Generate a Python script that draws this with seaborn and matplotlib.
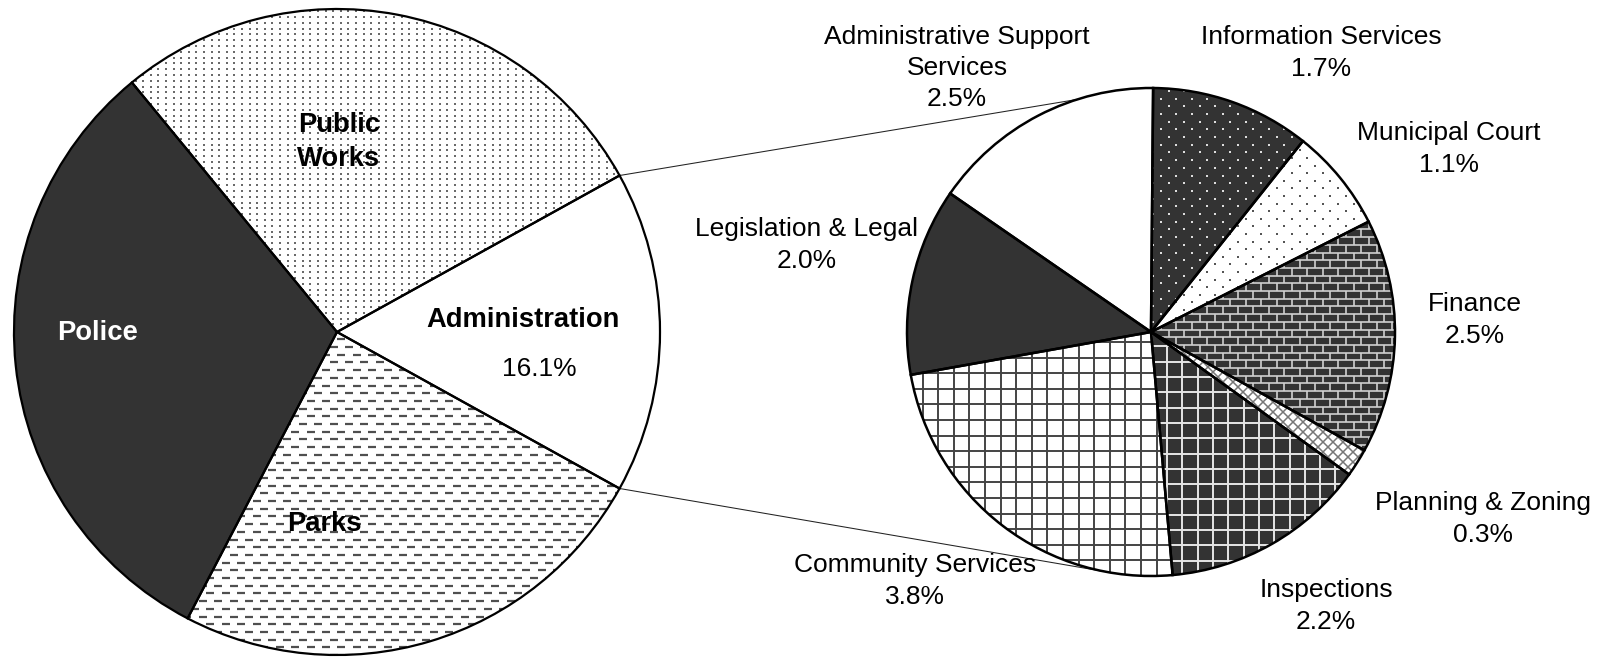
import textwrap

import numpy as np
import matplotlib
matplotlib.use("Agg")
import matplotlib.pyplot as plt
from matplotlib.collections import LineCollection
import seaborn as sns

# ---- data -------------------------------------------------------------
dept_names = ["Administration", "Public Works", "Police", "Parks"]
dept_share = [16.1, 27.9, 31.4, 24.6]

admin_names = [
    "Information Services",
    "Municipal Court",
    "Finance",
    "Planning & Zoning",
    "Inspections",
    "Community Services",
    "Legislation & Legal",
    "Administrative Support Services",
]
admin_share = [1.7, 1.1, 2.5, 0.3, 2.2, 3.8, 2.0, 2.5]

# ---- canvas (axes units are pixels, y up) -----------------------------
W, H = 1606, 658
sns.set_theme(style="white")
plt.rcParams["font.family"] = ["Liberation Sans", "DejaVu Sans"]

fig = plt.figure(figsize=(W / 100, H / 100), dpi=100)
ax = fig.add_axes([0, 0, 1, 1])

DARK = "#333333"


def Y(y):
    return H - y


main_c, main_r = (337.0, Y(332)), 323.0
sub_c, sub_r = (1151.0, Y(332)), 244.0

main_start = -dept_share[0] / 100 * 360 / 2
sub_start = 89.5

main_faces = ["white", "white", DARK, "white"]
sub_faces = [DARK, "white", DARK, "white", DARK, "white", DARK, "white"]

# filled faces
wm, _ = ax.pie(dept_share, colors=main_faces, startangle=main_start,
               center=main_c, radius=main_r,
               wedgeprops=dict(linewidth=0, zorder=1))
ws, _ = ax.pie(admin_share, colors=sub_faces, startangle=sub_start,
               counterclock=False, center=sub_c, radius=sub_r,
               wedgeprops=dict(linewidth=0, zorder=1))


# ---- fill textures, clipped to their wedge ----------------------------
def lattice(c, r, dx, dy, stagger):
    rows = []
    for i, y in enumerate(np.arange(c[1] - r - dy, c[1] + r + dy, dy)):
        off = dx / 2 if (stagger and i % 2) else 0.0
        xs = np.arange(c[0] - r - dx + off, c[0] + r + dx, dx)
        rows.append(np.column_stack([xs, np.full_like(xs, y)]))
    return np.vstack(rows)


def dots(w, c, r, dx, dy, stagger, color, size):
    p = lattice(c, r, dx, dy, stagger)
    sc = ax.scatter(p[:, 0], p[:, 1], s=size, color=color, marker="s",
                    linewidths=0, zorder=2)
    sc.set_clip_path(w)


def lines(w, segs, color, lw):
    lc = LineCollection(segs, colors=color, linewidths=lw, zorder=2)
    ax.add_collection(lc)
    lc.set_clip_path(w)


def dashes(w, c, r, period, row, length, color, lw):
    p = lattice(c, r, period, row, True)
    segs = [[(x, y), (x + length, y)] for x, y in p]
    lines(w, segs, color, lw)


def grid(w, c, r, step, color, lw):
    segs = []
    for v in np.arange(-r - step, r + step, step):
        segs.append([(c[0] + v, c[1] - r), (c[0] + v, c[1] + r)])
        segs.append([(c[0] - r, c[1] + v), (c[0] + r, c[1] + v)])
    lines(w, segs, color, lw)


def bricks(w, c, r, length, row, color, lw):
    segs = []
    for i, y in enumerate(np.arange(c[1] - r - row, c[1] + r + row, row)):
        segs.append([(c[0] - r, y), (c[0] + r, y)])
        off = length / 2 if i % 2 else 0.0
        for x in np.arange(c[0] - r - length + off, c[0] + r + length, length):
            segs.append([(x, y), (x, y + row)])
    lines(w, segs, color, lw)


def diagonal(w, c, r, step, color, lw):
    segs = []
    for v in np.arange(-2 * r, 2 * r, step):
        segs.append([(c[0] + v - r, c[1] - r), (c[0] + v + r, c[1] + r)])
        segs.append([(c[0] + v - r, c[1] + r), (c[0] + v + r, c[1] - r)])
    lines(w, segs, color, lw)


# overall budget pie
dots(wm[1], main_c, main_r, 7.6, 5.8, False, "#6a6a6a", 2.2)
dashes(wm[3], main_c, main_r, 15.4, 7.7, 8.0, "#4f4f4f", 1.6)

# administration breakdown
dots(ws[0], sub_c, sub_r, 15.4, 7.7, True, "#dddddd", 2.6)
dots(ws[1], sub_c, sub_r, 15.4, 7.6, True, "#555555", 2.6)
bricks(ws[2], sub_c, sub_r, 15.4, 7.7, "#d0d0d0", 1.2)
diagonal(ws[3], sub_c, sub_r, 10.0, "#777777", 1.1)
grid(ws[4], sub_c, sub_r, 15.3, "#e6e6e6", 1.4)
grid(ws[5], sub_c, sub_r, 15.6, "#444444", 1.4)

# wedge outlines on top of the textures
ax.pie(dept_share, colors=["none"] * len(dept_share), startangle=main_start,
       center=main_c, radius=main_r,
       wedgeprops=dict(fill=False, edgecolor="black", linewidth=1.6, zorder=3))
ax.pie(admin_share, colors=["none"] * len(admin_share), startangle=sub_start,
       counterclock=False, center=sub_c, radius=sub_r,
       wedgeprops=dict(fill=False, edgecolor="black", linewidth=1.8, zorder=3))

# ---- connector lines from the Administration slice --------------------
a_top = np.deg2rad(main_start + dept_share[0] / 100 * 360)
a_bot = np.deg2rad(main_start)
b_top, b_bot = np.deg2rad(107.6), np.deg2rad(259.0)
for a, b in ((a_top, b_top), (a_bot, b_bot)):
    ax.plot([main_c[0] + main_r * np.cos(a), sub_c[0] + sub_r * np.cos(b)],
            [main_c[1] + main_r * np.sin(a), sub_c[1] + sub_r * np.sin(b)],
            color="#222222", linewidth=0.75, zorder=0.5)

# ---- labels ------------------------------------------------------------
FS, FSB = 19, 19.7

main_label_pos = {
    "Public Works": (339, 142),
    "Police": (98, 333),
    "Administration": (523, 320),
    "Parks": (324, 524),
}
for name in dept_names:
    x, y = main_label_pos[name]
    ax.text(x, Y(y), textwrap.fill(name, 7) if name == "Public Works" else name,
            ha="center", va="center", fontsize=FSB, fontweight="bold",
            color="white" if name == "Police" else "black",
            linespacing=1.38, zorder=4)
ax.text(539, Y(369), f"{dept_share[0]:.1f}%", ha="center", va="center",
        fontsize=FS, color="black", zorder=4)

sub_label_pos = {
    "Information Services": (1321, 53),
    "Municipal Court": (1449, 149),
    "Finance": (1475, 320),
    "Planning & Zoning": (1483, 519),
    "Inspections": (1326, 606),
    "Community Services": (915, 581),
    "Legislation & Legal": (807, 245),
    "Administrative Support Services": (957, 68),
}
for name, share in zip(admin_names, admin_share):
    x, y = sub_label_pos[name]
    ax.text(x, Y(y), f"{textwrap.fill(name, 22)}\n{share:.1f}%",
            ha="center", va="center", fontsize=FS, color="black",
            linespacing=1.37, zorder=4)

ax.set_xlim(0, W)
ax.set_ylim(0, H)
ax.set_aspect("equal", adjustable="box")
ax.axis("off")

fig.savefig("out.png", dpi=100, facecolor="white")
